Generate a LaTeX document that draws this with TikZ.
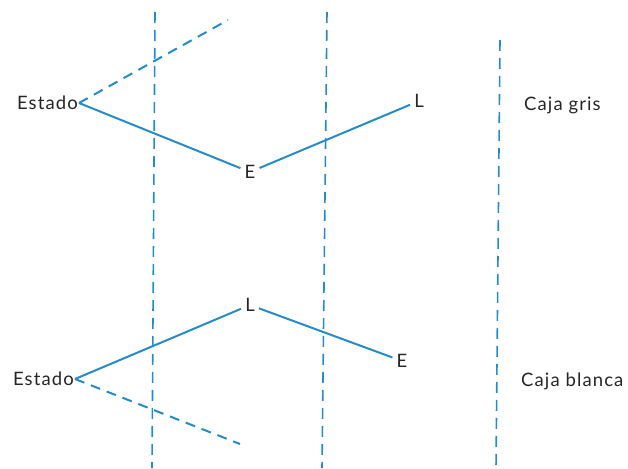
\documentclass[tikz,border=0pt]{standalone}
\usepackage{fontspec}
\setmainfont[LetterSpace=6]{Lato}
\definecolor{lineblue}{RGB}{38,140,200}
\begin{document}
\begin{tikzpicture}[x=1pt,y=-1pt,
  sol/.style={draw=lineblue,line width=2pt},
  dsh/.style={draw=lineblue,line width=2pt,dash pattern=on 10pt off 7pt},
  vdsh/.style={draw=lineblue,line width=1.6pt,dash pattern=on 11pt off 7pt},
  lbl/.style={font=\fontsize{18.5}{21}\selectfont,text=black!85,inner sep=4pt},
  st/.style={font=\fontsize{18.5}{21}\selectfont,text=black!85,inner sep=1pt}]
\useasboundingbox (0,0) rectangle (628,468);
% vertical dashed boundaries
\coordinate (v1t) at (155,12); \coordinate (v1b) at (152,468);
\coordinate (v2t) at (327,12); \coordinate (v2b) at (322,468);
\coordinate (v3t) at (500,40); \coordinate (v3b) at (496,468);
\draw[vdsh] (v1t) -- (v1b);
\draw[vdsh] (v2t) -- (v2b);
\draw[vdsh] (v3t) -- (v3b);
% top: caja gris
\node[st,anchor=east] (est1) at (79,103) {Estado};
\node[lbl] (e1) at (250,172) {E};
\node[lbl] (l1) at (419,101) {L};
\coordinate (d1) at (228,20);
\draw[dsh] (est1.east) -- (d1);
\draw[sol] (est1.east) -- (e1);
\draw[sol] (e1) -- (l1);
\node[lbl,anchor=west,inner sep=0pt] (cg) at (524,105) {Caja gris};
% bottom: caja blanca
\node[st,anchor=east] (est2) at (75,379) {Estado};
\node[lbl] (l2) at (250,305) {L};
\node[lbl] (e2) at (402,361) {E};
\coordinate (d2) at (240,444);
\draw[dsh] (est2.east) -- (d2);
\draw[sol] (est2.east) -- (l2);
\draw[sol] (l2) -- (e2);
\node[lbl,anchor=west,inner sep=0pt] (cb) at (521,381) {Caja blanca};
\end{tikzpicture}
\end{document}
